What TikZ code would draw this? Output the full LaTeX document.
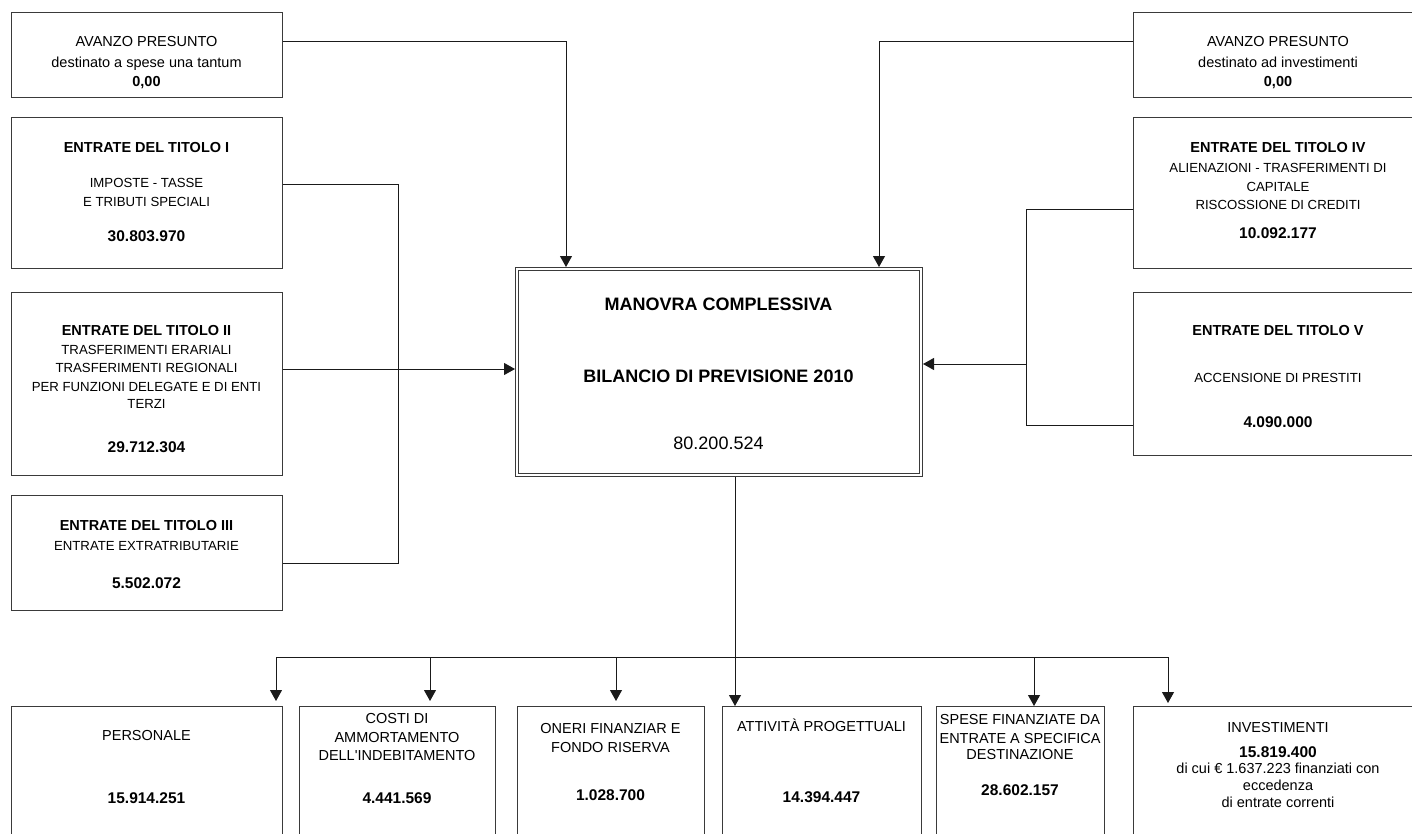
\documentclass[tikz,border=0pt]{standalone}
\usepackage{fontspec}
\setmainfont{Liberation Sans}
\usetikzlibrary{arrows.meta}
\definecolor{boxline}{HTML}{3A3A3A}
\definecolor{connline}{HTML}{1A1A1A}
\newcommand{\apos}{\XeTeXglyph\XeTeXcharglyph"27\relax}
\begin{document}
\begin{tikzpicture}[x=1pt,y=-1pt,
  box/.style={draw=boxline, line width=1pt, inner sep=0pt, anchor=north west, rectangle},
  conn/.style={draw=connline, line width=1pt},
  arr/.style={conn, -{Triangle[width=12pt,length=11pt]}},
  rt/.style={anchor=base, inner sep=0pt, font=\fontsize{14.5}{17}\selectfont},
  st/.style={anchor=base, inner sep=0pt, font=\fontsize{13.2}{16}\selectfont},
  bt/.style={anchor=base, inner sep=0pt, font=\fontsize{14.5}{17}\selectfont\bfseries},
  nt/.style={anchor=base, inner sep=0pt, font=\fontsize{15.5}{18}\selectfont\bfseries},
  ct/.style={anchor=base, inner sep=0pt, font=\fontsize{18}{21}\selectfont\bfseries},
  cn/.style={anchor=base, inner sep=0pt, font=\fontsize{18}{21}\selectfont},
]
\useasboundingbox (0,0) rectangle (1412,834);
\clip (0,0) rectangle (1412,834);
\fill[white] (0,0) rectangle (1412,834);

% ---------- boxes ----------
\node[box, minimum width=271pt, minimum height=85pt]  (a1) at (11,12) {};
\node[box, minimum width=271pt, minimum height=151pt] (t1) at (11,117) {};
\node[box, minimum width=271pt, minimum height=183pt] (t2) at (11,292) {};
\node[box, minimum width=271pt, minimum height=115pt] (t3) at (11,495) {};

\node[box, minimum width=291pt, minimum height=85pt]  (a2) at (1133,12) {};
\node[box, minimum width=291pt, minimum height=151pt] (t4) at (1133,117) {};
\node[box, minimum width=291pt, minimum height=163pt] (t5) at (1133,292) {};

\node[box, minimum width=407pt, minimum height=209pt] (c) at (515,267) {};
\draw[draw=boxline, line width=1pt] (518,270) rectangle (919,473);

\node[box, minimum width=271pt, minimum height=150pt] (b1) at (11,706) {};
\node[box, minimum width=196pt, minimum height=150pt] (b2) at (299,706) {};
\node[box, minimum width=187pt, minimum height=150pt] (b3) at (517,706) {};
\node[box, minimum width=199pt, minimum height=150pt] (b4) at (722,706) {};
\node[box, minimum width=168pt, minimum height=150pt] (b5) at (936,706) {};
\node[box, minimum width=291pt, minimum height=150pt] (b6) at (1133,706) {};

% ---------- texts ----------
\node[rt] (a1l1) at (146.5,47) {AVANZO PRESUNTO};
\node[rt] (a1l2) at (146.5,68) {destinato a spese una tantum};
\node[bt] (a1l3) at (146.5,87) {0,00};

\node[rt] (a2l1) at (1278,47) {AVANZO PRESUNTO};
\node[rt] (a2l2) at (1278,68) {destinato ad investimenti};
\node[bt] (a2l3) at (1278,87) {0,00};

\node[bt] (t1l1) at (146.5,153) {ENTRATE DEL TITOLO I};
\node[st] (t1l2) at (146.5,188) {IMPOSTE - TASSE};
\node[st] (t1l3) at (146.5,207) {E TRIBUTI SPECIALI};
\node[nt] (t1l4) at (146.5,241) {30.803.970};

\node[bt] (t2l1) at (146.5,335) {ENTRATE DEL TITOLO II};
\node[st] (t2l2) at (146.5,354) {TRASFERIMENTI ERARIALI};
\node[st] (t2l3) at (146.5,372) {TRASFERIMENTI REGIONALI};
\node[st] (t2l4) at (146.5,391) {PER FUNZIONI DELEGATE E DI ENTI};
\node[st] (t2l5) at (146.5,408) {TERZI};
\node[nt] (t2l6) at (146.5,452) {29.712.304};

\node[bt] (t3l1) at (146.5,530) {ENTRATE DEL TITOLO III};
\node[st] (t3l2) at (146.5,550) {ENTRATE EXTRATRIBUTARIE};
\node[nt] (t3l3) at (146.5,588) {5.502.072};

\node[bt] (t4l1) at (1278,153) {ENTRATE DEL TITOLO IV};
\node[st] (t4l2) at (1278,173) {ALIENAZIONI - TRASFERIMENTI DI};
\node[st] (t4l3) at (1278,192) {CAPITALE};
\node[st] (t4l4) at (1278,210) {RISCOSSIONE DI CREDITI};
\node[nt] (t4l5) at (1278,239) {10.092.177};

\node[bt] (t5l1) at (1278,335) {ENTRATE DEL TITOLO V};
\node[st] (t5l2) at (1278,382) {ACCENSIONE DI PRESTITI};
\node[nt] (t5l3) at (1278,427) {4.090.000};

\node[ct] (cl1) at (718.5,310) {MANOVRA COMPLESSIVA};
\node[ct] (cl2) at (718.5,382) {BILANCIO DI PREVISIONE 2010};
\node[cn] (cl3) at (718.5,449) {80.200.524};

\node[rt] (b1l1) at (146.5,740) {PERSONALE};
\node[nt] (b1l2) at (146.5,803) {15.914.251};

\node[rt] (b2l1) at (397,723) {COSTI DI};
\node[rt] (b2l2) at (397,742) {AMMORTAMENTO};
\node[rt] (b2l3) at (397,760) {DELL\apos INDEBITAMENTO};
\node[nt] (b2l4) at (397,803) {4.441.569};

\node[rt] (b3l1) at (610.5,733) {ONERI FINANZIAR E};
\node[rt] (b3l2) at (610.5,752) {FONDO RISERVA};
\node[nt] (b3l3) at (610.5,800) {1.028.700};

\node[rt] (b4l1) at (821.5,731) {ATTIVITÀ PROGETTUALI};
\node[nt] (b4l2) at (821.5,802) {14.394.447};

\node[rt] (b5l1) at (1020,724) {SPESE FINANZIATE DA};
\node[rt] (b5l2) at (1020,743) {ENTRATE A SPECIFICA};
\node[rt] (b5l3) at (1020,759) {DESTINAZIONE};
\node[nt] (b5l4) at (1020,795) {28.602.157};

\node[rt] (b6l1) at (1278,732) {INVESTIMENTI};
\node[nt] (b6l2) at (1278,757) {15.819.400};
\node[rt] (b6l3) at (1278,773) {di cui € 1.637.223 finanziati con};
\node[rt] (b6l4) at (1278,790) {eccedenza};
\node[rt] (b6l5) at (1278,807) {di entrate correnti};

% ---------- connectors ----------
\draw[arr] ([yshift=-30pt]a1.north east) -| ([xshift=51pt]c.north west);
\draw[arr] ([yshift=-30pt]a2.north west) -| ([xshift=-44pt]c.north east);

\coordinate (jl) at (398,369);
\draw[conn] ([yshift=-68pt]t1.north east) -| (jl);
\draw[conn] ([yshift=-68pt]t3.north east) -| (jl);
\draw[arr] ([yshift=-77pt]t2.north east) -- (c.west |- jl);

\coordinate (jr) at (1026,364);
\draw[conn] ([yshift=-93pt]t4.north west) -| (jr);
\draw[conn] ([yshift=-133pt]t5.north west) -| (jr);
\draw[arr] (jr) -- (c.east |- jr);

\coordinate (cb) at ([xshift=220pt]c.south west);
\draw[arr] (cb) -- (cb |- b4.north);

\coordinate (bus1) at (276,657);
\coordinate (bus2) at (430,657);
\coordinate (bus3) at (616,657);
\coordinate (bus5) at (1034,657);
\coordinate (bus6) at (1168,657);
\draw[conn] (bus1) -- (bus6);
\draw[arr, shorten >=5pt] (bus1) -- (bus1 |- b1.north);
\draw[arr, shorten >=5pt] (bus2) -- (bus2 |- b2.north);
\draw[arr, shorten >=5pt] (bus3) -- (bus3 |- b3.north);
\draw[arr] (bus5) -- (bus5 |- b5.north);
\draw[arr, shorten >=3pt] (bus6) -- (bus6 |- b6.north);
\end{tikzpicture}
\end{document}
